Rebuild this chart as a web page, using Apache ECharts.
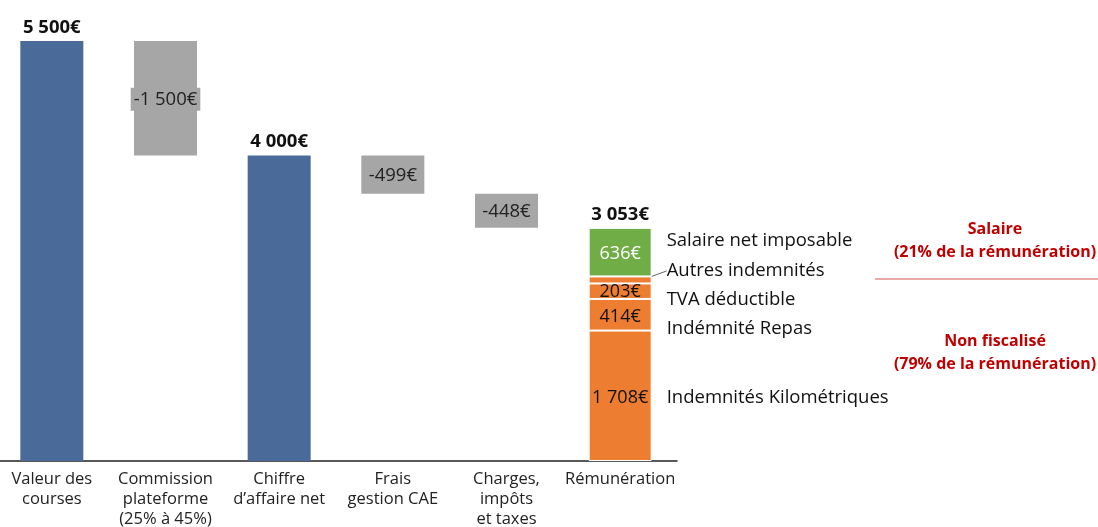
<!DOCTYPE html>
<html>
<head>
<meta charset="utf-8">
<script src="https://cdn.jsdelivr.net/npm/echarts@6/dist/echarts.min.js"></script>
<style>
  html, body { margin: 0; padding: 0; background: #fff; }
  #chart { width: 1098px; height: 527px; }
</style>
</head>
<body>
<div id="chart"></div>
<script>
const categories = ['Valeur des\ncourses', 'Commission\nplateforme\n(25% à 45%)', 'Chiffre\nd’affaire net', 'Frais\ngestion CAE', 'Charges,\nimpôts\net taxes', 'Rémunération']
const totals = [5500, '-', 4000, '-', '-', '-']
const deductions = ['-', 1500, '-', 499, 448, '-']
// parts of the remuneration, bottom to top
const remNames = ['Indemnités Kilométriques', 'Indémnité Repas', 'TVA déductible', 'Autres indemnités', 'Salaire net imposable']
const remValues = [1708, 414, 203, 92, 636]
const remTotal = 3053

const FONT = '"Open Sans", "Noto Sans", sans-serif'
const fmt = v => String(v).replace(/\B(?=(\d{3})+(?!\d))/g, ' ') + '€'

// invisible base under each deduction (running total)
const base = []
let running = 0
categories.forEach((c, i) => {
  if (totals[i] !== '-') { running = totals[i]; base.push('-') }
  else if (deductions[i] !== '-') { running -= deductions[i]; base.push(running) }
  else base.push('-')
})

const onlyLast = v => categories.map((c, i) => i === categories.length - 1 ? v : '-')

const remColors = ['#ed7d31', '#ed7d31', '#ed7d31', '#ed7d31', '#70ad47']
const nameDy = [2, 14, 9, -9, -11]

const series = [
  { name: 'base', type: 'bar', stack: 'w', data: base, itemStyle: { color: 'transparent' }, silent: true },
  {
    name: 'totals', type: 'bar', stack: 'w', data: totals,
    itemStyle: { color: '#4a6a9a' },
    label: { show: true, position: 'top', distance: 4, fontFamily: FONT, fontWeight: 'bold', fontSize: 18.5, color: '#111', formatter: p => fmt(p.value) }
  },
  {
    name: 'deductions', type: 'bar', stack: 'w', data: deductions,
    itemStyle: { color: '#a6a6a6' },
    label: { show: true, position: 'inside', offset: [0, 1], fontFamily: FONT, fontSize: 18.5, color: '#222', backgroundColor: '#a6a6a6', padding: [2, 3], formatter: p => '-' + fmt(p.value) }
  }
]

remValues.forEach((v, k) => {
  series.push({
    name: remNames[k], type: 'bar', stack: 'w', data: onlyLast(v),
    itemStyle: { color: remColors[k], borderColor: '#fff', borderWidth: 1 },
    label: {
      show: k !== 3, position: 'inside', offset: [0, k === 2 ? 1 : 2], fontFamily: FONT, fontSize: 18,
      color: k === 4 ? '#fff' : '#111', formatter: p => fmt(p.value)
    }
  })
})

// overlapped transparent copies carrying the names on the right
remValues.forEach((v, k) => {
  series.push({
    name: remNames[k] + ' ', type: 'bar', stack: 'n', data: onlyLast(v), silent: true,
    itemStyle: { color: 'transparent' },
    label: { show: true, position: 'right', distance: 15, offset: [0, nameDy[k]], fontFamily: FONT, fontSize: 18.5, color: '#111', formatter: remNames[k] },
    labelLine: k === 3 ? { show: true, length2: 0, lineStyle: { color: '#666', width: 1 } } : undefined,
    labelLayout: k === 3 ? { dy: -9 } : undefined
  })
})

series.push({
  name: 'total', type: 'bar', stack: 't', data: onlyLast(remTotal), silent: true,
  itemStyle: { color: 'transparent' },
  label: { show: true, position: 'top', distance: 4, fontFamily: FONT, fontWeight: 'bold', fontSize: 18.5, color: '#111', formatter: p => fmt(p.value) }
})

const chart = echarts.init(document.getElementById('chart'))
chart.setOption({
  animation: false,
  grid: { left: -5, top: 41, width: 682, bottom: 66, outerBoundsMode: 'none' },
  xAxis: {
    type: 'category', data: categories,
    axisTick: { show: false },
    axisLine: { lineStyle: { color: '#222', width: 1.5 } },
    axisLabel: { interval: 0, fontFamily: FONT, fontSize: 16.5, color: '#222', lineHeight: 20, margin: 8 }
  },
  yAxis: { type: 'value', min: 0, max: 5500, show: false },
  series: series.map(s => Object.assign({ barWidth: 63, barGap: '-100%' }, s)),
  graphic: [
    { type: 'text', x: 995, y: 218, style: { text: 'Salaire\n(21% de la rémunération)', fill: '#c00000', font: 'bold 16px ' + FONT, align: 'center', lineHeight: 23 } },
    { type: 'line', shape: { x1: 875, y1: 279, x2: 1098, y2: 279 }, style: { stroke: '#d9534f', lineWidth: 1 } },
    { type: 'text', x: 995, y: 330, style: { text: 'Non fiscalisé\n(79% de la rémunération)', fill: '#c00000', font: 'bold 16px ' + FONT, align: 'center', lineHeight: 23 } }
  ]
})
</script>
</body>
</html>
